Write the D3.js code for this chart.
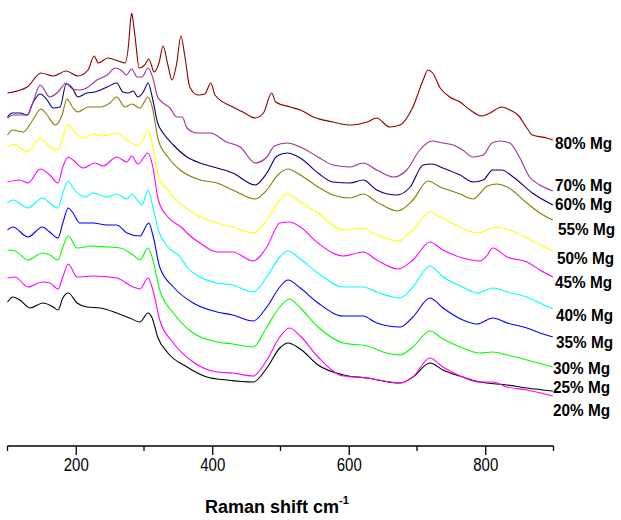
<!DOCTYPE html>
<html>
<head>
<meta charset="utf-8">
<script src="https://cdn.jsdelivr.net/npm/d3@7"></script>
<style>
  body { margin: 0; background: #fff; }
  svg { display: block; }
</style>
</head>
<body>
<div id="chart"></div>
<script>
// Raman spectra, stacked (intensity in arbitrary units with offsets)
var xTicks = [200, 400, 600, 800];
var xMinor = [100, 300, 500, 700, 900];

var labels = ["80% Mg", "70% Mg", "60% Mg", "55% Mg", "50% Mg", "45% Mg",
              "40% Mg", "35% Mg", "30% Mg", "25% Mg", "20% Mg"];
var colors = ["#8b0000", "#993399", "#000080", "#808000", "#ffff00", "#ff00ff",
              "#00ffff", "#0000ff", "#00ff00", "#ff00ff", "#000000"];

// [wavenumber, intensity]
var mg80 = [[100,353],[129,359],[149,373],[167,370],[186,375],[203,370],[218,376],[227,390],[233,383],
  [247,388],[262,385],[272,383],[278,406],[280,424],[282,433],[284,425],[287,409],[293,378],[301,381],
  [307,387],[315,374],[322,383],[328,400],[335,381],[341,366],[348,383],[354,410],[360,389],[367,359],
  [379,351],[389,352],[398,363],[404,351],[430,339],[445,334],[463,328],[475,333],[487,353],[493,344],
  [514,339],[529,336],[548,329],[577,324],[602,321],[627,324],[641,328],[660,319],[675,321],[694,339],
  [709,366],[716,376],[723,373],[734,358],[748,349],[763,344],[778,336],[795,330],[807,333],[824,339],
  [836,336],[848,331],[861,318],[869,311],[890,308],[899,306]];
var mg70 = [[100,328],[108,331],[129,331],[137,343],[148,361],[162,349],[174,354],[186,363],[195,357],
  [206,356],[216,358],[231,366],[246,371],[258,378],[268,375],[274,371],[282,377],[290,369],[297,369],
  [306,378],[313,368],[320,349],[328,343],[338,338],[348,329],[356,329],[363,318],[378,313],[397,313],
  [421,304],[441,299],[463,283],[480,289],[491,300],[510,303],[529,299],[555,289],[577,281],[602,279],
  [621,283],[641,276],[665,269],[685,276],[704,296],[722,305],[738,303],[753,301],[767,296],[782,289],
  [797,291],[810,303],[822,305],[836,303],[850,289],[865,269],[880,261],[899,255]];
var mg60 = [[100,329],[107,333],[118,333],[129,331],[137,343],[148,352],[158,346],[167,338],[177,339],
  [186,362],[195,358],[203,349],[216,353],[228,354],[246,359],[260,363],[269,354],[277,353],[284,355],
  [291,349],[299,354],[306,363],[312,349],[320,323],[328,313],[343,301],[363,289],[382,283],[407,278],
  [430,273],[463,261],[480,273],[495,290],[510,293],[529,288],[555,273],[577,264],[602,263],[621,266],
  [641,256],[670,251],[690,259],[709,281],[722,282],[738,278],[763,271],[782,264],[797,266],[811,276],
  [824,276],[841,269],[869,253],[899,241]];
var mg55 = [[100,311],[108,316],[123,314],[137,326],[149,337],[158,331],[170,321],[180,331],[187,347],
  [196,338],[203,334],[218,339],[236,339],[250,343],[260,349],[272,339],[282,342],[294,338],[306,349],
  [312,339],[321,306],[335,289],[353,276],[382,266],[407,263],[430,256],[463,247],[480,256],[496,271],
  [511,277],[529,271],[555,259],[577,251],[602,248],[621,252],[641,244],[672,235],[694,246],[716,265],
  [734,259],[763,252],[782,247],[803,260],[817,262],[832,259],[861,243],[880,233],[899,226]];
var mg50 = [[100,299],[108,302],[130,294],[148,308],[162,299],[174,296],[181,309],[189,322],[196,316],
  [211,308],[225,312],[240,310],[260,313],[275,306],[290,301],[297,304],[306,316],[313,299],[323,266],
  [335,256],[343,249],[372,233],[407,223],[430,219],[460,213],[480,226],[499,246],[511,252],[529,244],
  [555,233],[592,216],[621,218],[641,211],[672,205],[694,216],[719,234],[734,229],[763,219],[788,213],
  [803,216],[817,219],[836,216],[861,208],[880,201],[899,195]];
var mg45 = [[100,264],[118,266],[130,263],[148,277],[162,271],[174,263],[181,279],[189,289],[196,286],
  [211,278],[228,283],[240,280],[260,289],[275,284],[282,290],[291,282],[306,293],[313,279],[321,246],
  [335,229],[356,218],[363,213],[382,203],[407,194],[430,194],[460,185],[480,199],[499,223],[513,224],
  [529,219],[555,203],[592,190],[621,194],[641,186],[672,177],[694,186],[719,204],[738,196],[767,188],
  [792,185],[803,191],[811,198],[832,189],[861,184],[880,176],[899,169]];
var mg40 = [[100,243],[108,246],[130,238],[151,248],[162,243],[174,238],[181,253],[189,265],[196,258],
  [214,249],[225,253],[246,249],[260,252],[275,247],[282,252],[290,246],[297,241],[306,256],[313,239],
  [321,216],[335,199],[353,189],[363,179],[382,169],[407,163],[430,161],[460,154],[480,169],[499,189],
  [511,195],[529,187],[555,173],[592,159],[621,159],[641,154],[675,148],[694,159],[719,180],[738,169],
  [767,159],[788,153],[811,158],[832,154],[861,149],[880,143],[899,137]];
var mg35 = [[100,216],[108,219],[130,209],[151,219],[162,214],[174,208],[181,223],[189,238],[196,233],
  [206,223],[225,223],[246,221],[260,221],[275,213],[294,210],[307,223],[313,211],[323,179],[343,159],
  [372,143],[407,134],[430,131],[460,125],[480,139],[499,159],[511,166],[529,158],[555,143],[592,130],
  [621,130],[641,123],[675,119],[694,129],[719,148],[738,138],[767,126],[788,122],[811,128],[832,123],
  [861,118],[880,113],[899,109]];
var mg30 = [[100,196],[111,195],[130,186],[151,193],[162,191],[174,186],[181,199],[189,210],[202,198],
  [225,200],[246,199],[265,198],[284,191],[294,186],[306,198],[313,186],[323,156],[343,133],[372,113],
  [407,104],[430,102],[460,99],[480,119],[499,139],[513,147],[529,138],[555,119],[592,103],[627,100],
  [650,94],[675,91],[694,99],[719,115],[738,107],[767,98],[792,93],[811,94],[832,91],[861,86],[899,79]];
var mg25 = [[100,168],[111,169],[130,159],[151,164],[162,163],[174,157],[181,169],[189,182],[202,169],
  [225,170],[260,168],[284,159],[294,157],[306,168],[313,156],[323,126],[343,103],[372,84],[407,74],
  [430,73],[460,70],[480,86],[499,109],[513,118],[529,110],[555,89],[592,70],[627,68],[675,63],[694,69],
  [719,88],[738,79],[767,69],[792,64],[811,64],[832,59],[861,56],[899,50]];
var mg20 = [[100,144],[108,149],[118,146],[133,138],[152,143],[167,139],[174,136],[181,148],[189,153],
  [202,143],[216,139],[236,138],[260,133],[279,128],[294,124],[306,133],[312,128],[320,109],[335,93],
  [363,79],[392,69],[421,66],[460,64],[480,78],[499,98],[511,103],[529,97],[555,81],[592,71],[627,68],
  [675,63],[694,69],[719,83],[738,76],[767,69],[792,64],[832,61],[861,58],[899,55]];

var spectra = [mg80, mg70, mg60, mg55, mg50, mg45, mg40, mg35, mg30, mg25, mg20];
// vertical nudge of each label relative to its curve end (px)
var labelNudge = [3, -6, -1, 9, 7, 5, 6, 5, 1, -9, 19];
var labelX = [555, 555, 555, 558, 557, 555, 556, 556, 553, 553, 553];

function init() {
    var w = 621, h = 520;
    var font = "Liberation Sans, Arial, sans-serif";
    var svg = d3.select("#chart").append("svg")
        .attr("width", w)
        .attr("height", h);

    var x = d3.scaleLinear().domain([100, 900]).range([7.5, 553.5]);
    var y = d3.scaleLinear().domain([0, 446]).range([446, 0]);

    var line = d3.line()
        .x(function(d) { return x(d[0]); })
        .y(function(d) { return y(d[1]); })
        .curve(d3.curveMonotoneX);

    // draw bottom-most first
    for (var i = spectra.length - 1; i >= 0; i--) {
        svg.append("path")
            .datum(spectra[i])
            .attr("d", line)
            .attr("fill", "none")
            .attr("stroke", colors[i])
            .attr("stroke-width", 1.1);
    }

    // labels at right (the original font is a little condensed)
    spectra.forEach(function(s, i) {
        var last = s[s.length - 1];
        svg.append("text")
            .attr("x", labelX[i])
            .attr("y", y(last[1]) + labelNudge[i])
            .attr("dy", "0.36em")
            .attr("font-family", font)
            .attr("font-weight", "bold")
            .attr("font-size", "16.5px")
            .attr("textLength", 57)
            .attr("lengthAdjust", "spacingAndGlyphs")
            .attr("fill", "#000")
            .text(labels[i]);
    });

    // x axis
    var axisY = 446;
    var axis = svg.append("g")
        .attr("transform", "translate(0," + axisY + ")")
        .call(d3.axisBottom(x).tickValues(xTicks).tickSize(9).tickPadding(4).tickFormat(d3.format("d")));
    axis.select(".domain").attr("stroke", "#000").attr("stroke-width", 1.3).attr("d", "M" + x(100) + ",0H" + x(900));
    axis.selectAll(".tick line").attr("stroke", "#000").attr("stroke-width", 1.3);
    axis.selectAll(".tick text")
        .attr("font-family", font)
        .attr("font-size", "17.5px")
        .attr("textLength", 25)
        .attr("lengthAdjust", "spacingAndGlyphs")
        .attr("fill", "#000");

    svg.append("g")
        .attr("transform", "translate(0," + axisY + ")")
        .selectAll("line")
        .data(xMinor)
        .enter()
        .append("line")
        .attr("x1", function(d) { return x(d); })
        .attr("x2", function(d) { return x(d); })
        .attr("y1", 0)
        .attr("y2", 5)
        .attr("stroke", "#000")
        .attr("stroke-width", 1.3);

    // axis title
    var title = svg.append("text")
        .attr("x", 205)
        .attr("y", 513)
        .attr("font-family", font)
        .attr("font-weight", "bold")
        .attr("font-size", "18px")
        .attr("fill", "#000");
    title.append("tspan").text("Raman shift cm");
    title.append("tspan").attr("dy", -9).attr("font-size", "11px").text("-1");
}

window.onload = init;
</script>
</body>
</html>
